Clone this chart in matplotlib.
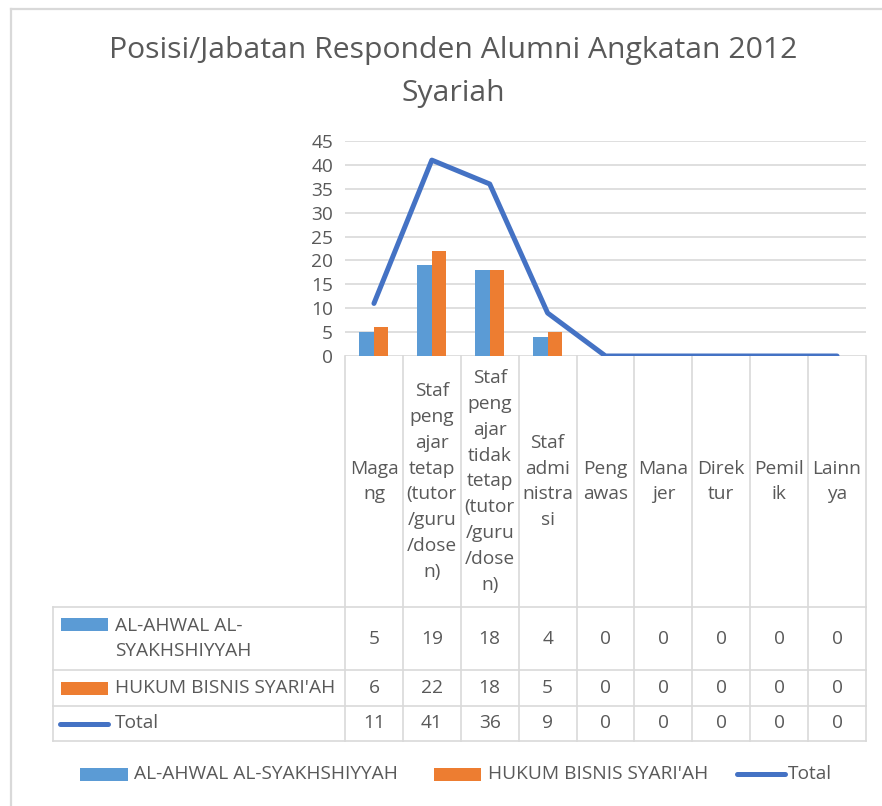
import matplotlib
matplotlib.use("Agg")
import matplotlib.pyplot as plt
import numpy as np
from matplotlib.patches import Rectangle
from matplotlib.lines import Line2D

# ---------------- data ----------------
categories = ["Maga\nng",
              "Staf\npeng\najar\ntetap\n(tutor\n/guru\n/dose\nn)",
              "Staf\npeng\najar\ntidak\ntetap\n(tutor\n/guru\n/dose\nn)",
              "Staf\nadmi\nnistra\nsi",
              "Peng\nawas", "Mana\njer", "Direk\ntur", "Pemil\nik", "Lainn\nya"]
series_names = ["AL-AHWAL AL-SYAKHSHIYYAH", "HUKUM BISNIS SYARI'AH", "Total"]
table_row_labels = ["AL-AHWAL AL-\nSYAKHSHIYYAH", "HUKUM BISNIS SYARI'AH", "Total"]
al_ahwal = [5, 19, 18, 4, 0, 0, 0, 0, 0]
hukum_bisnis = [6, 22, 18, 5, 0, 0, 0, 0, 0]
total = [11, 41, 36, 9, 0, 0, 0, 0, 0]
y_ticks = [0, 5, 10, 15, 20, 25, 30, 35, 40, 45]
title = "Posisi/Jabatan Responden Alumni Angkatan 2012\nSyariah"

# ---------------- style ----------------
BLUE = "#5B9BD5"
ORANGE = "#ED7D31"
LINEC = "#4472C4"
GRID = "#D9D9D9"
TXT = "#595959"
FONT = "Open Sans"
FS = 13.8
LS = 1.56
plt.rcParams["font.family"] = [FONT, "DejaVu Sans"]

W, H = 882, 806
fig = plt.figure(figsize=(W / 100, H / 100), dpi=100)
fig.patch.set_facecolor("white")

X0, X1 = 345, 866
Y0, Y1 = 356, 141
ax = fig.add_axes([X0 / W, 1 - Y0 / H, (X1 - X0) / W, (Y0 - Y1) / H])
n = len(categories)
ax.set_xlim(0, n)
ax.set_ylim(0, 45)
x = np.arange(n) + 0.5
bw = 0.25
ax.bar(x - bw / 2, al_ahwal, bw, color=BLUE, zorder=2)
ax.bar(x + bw / 2, hukum_bisnis, bw, color=ORANGE, zorder=2)
ax.plot(x, total, color=LINEC, lw=3.6, solid_joinstyle="round",
        solid_capstyle="round", zorder=3)
ax.set_yticks(y_ticks)
ax.set_xticks([])
ax.yaxis.grid(True, color=GRID, lw=1.2)
ax.set_axisbelow(True)
for s in ax.spines.values():
    s.set_visible(False)
ax.tick_params(axis="y", length=0, pad=8.5, labelsize=FS, labelcolor=TXT)
ax.patch.set_alpha(0)

# ---------------- overlay (pixel coords) ----------------
ov = fig.add_axes([0, 0, 1, 1], zorder=-1)
ov.set_xlim(0, W)
ov.set_ylim(H, 0)
ov.axis("off")

lw_t = 1.2
# chart border
ov.add_line(Line2D([11, 11], [9, H], color=GRID, lw=1.6))
ov.add_line(Line2D([11, W], [9, 9], color=GRID, lw=1.6))

# title
ov.text(453, 72, title, ha="center", va="center", fontsize=21.7, color=TXT,
        linespacing=1.62, multialignment="center")

# table geometry
colw = (X1 - X0) / n
cx = [X0 + i * colw for i in range(n + 1)]
TL = 53
rows_y = [607, 670, 706, 741]
for xx in cx:
    ov.add_line(Line2D([xx, xx], [Y0, rows_y[-1]], color=GRID, lw=lw_t))
ov.add_line(Line2D([TL, TL], [rows_y[0], rows_y[-1]], color=GRID, lw=lw_t))
for yy in rows_y:
    ov.add_line(Line2D([TL, X1], [yy, yy], color=GRID, lw=lw_t))

# category labels
for i, lab in enumerate(categories):
    ov.text((cx[i] + cx[i + 1]) / 2, (Y0 + rows_y[0]) / 2, lab, ha="center",
            va="center", fontsize=FS, color=TXT, linespacing=LS,
            multialignment="center")

# table rows
series_vals = [al_ahwal, hukum_bisnis, total]
key_colors = [BLUE, ORANGE]
for r, vals in enumerate(series_vals):
    yc = (rows_y[r] + rows_y[r + 1]) / 2
    for i, v in enumerate(vals):
        ov.text((cx[i] + cx[i + 1]) / 2, yc, str(v), ha="center", va="center",
                fontsize=FS, color=TXT)
    if r == 0:
        ov.add_patch(Rectangle((61, 618), 47, 13, color=key_colors[r], lw=0))
    elif r == 1:
        ov.add_patch(Rectangle((61, yc - 6.5), 47, 13, color=key_colors[r], lw=0))
    else:
        ov.add_line(Line2D([60, 108], [yc, yc], color=LINEC, lw=3.6,
                           solid_capstyle="round"))
    ov.text(115, yc, table_row_labels[r], ha="left", va="center", fontsize=FS,
            color=TXT, linespacing=LS)

# bottom legend
LY = 774
ov.add_patch(Rectangle((80, LY - 6.5), 48, 13, color=BLUE, lw=0))
ov.text(134, LY, series_names[0], ha="left", va="center", fontsize=FS, color=TXT)
ov.add_patch(Rectangle((434, LY - 6.5), 47, 13, color=ORANGE, lw=0))
ov.text(488, LY, series_names[1], ha="left", va="center", fontsize=FS, color=TXT)
ov.add_line(Line2D([737, 785], [LY, LY], color=LINEC, lw=3.6,
                   solid_capstyle="round"))
ov.text(788, LY, series_names[2], ha="left", va="center", fontsize=FS, color=TXT)

fig.savefig("out.png", dpi=100)
